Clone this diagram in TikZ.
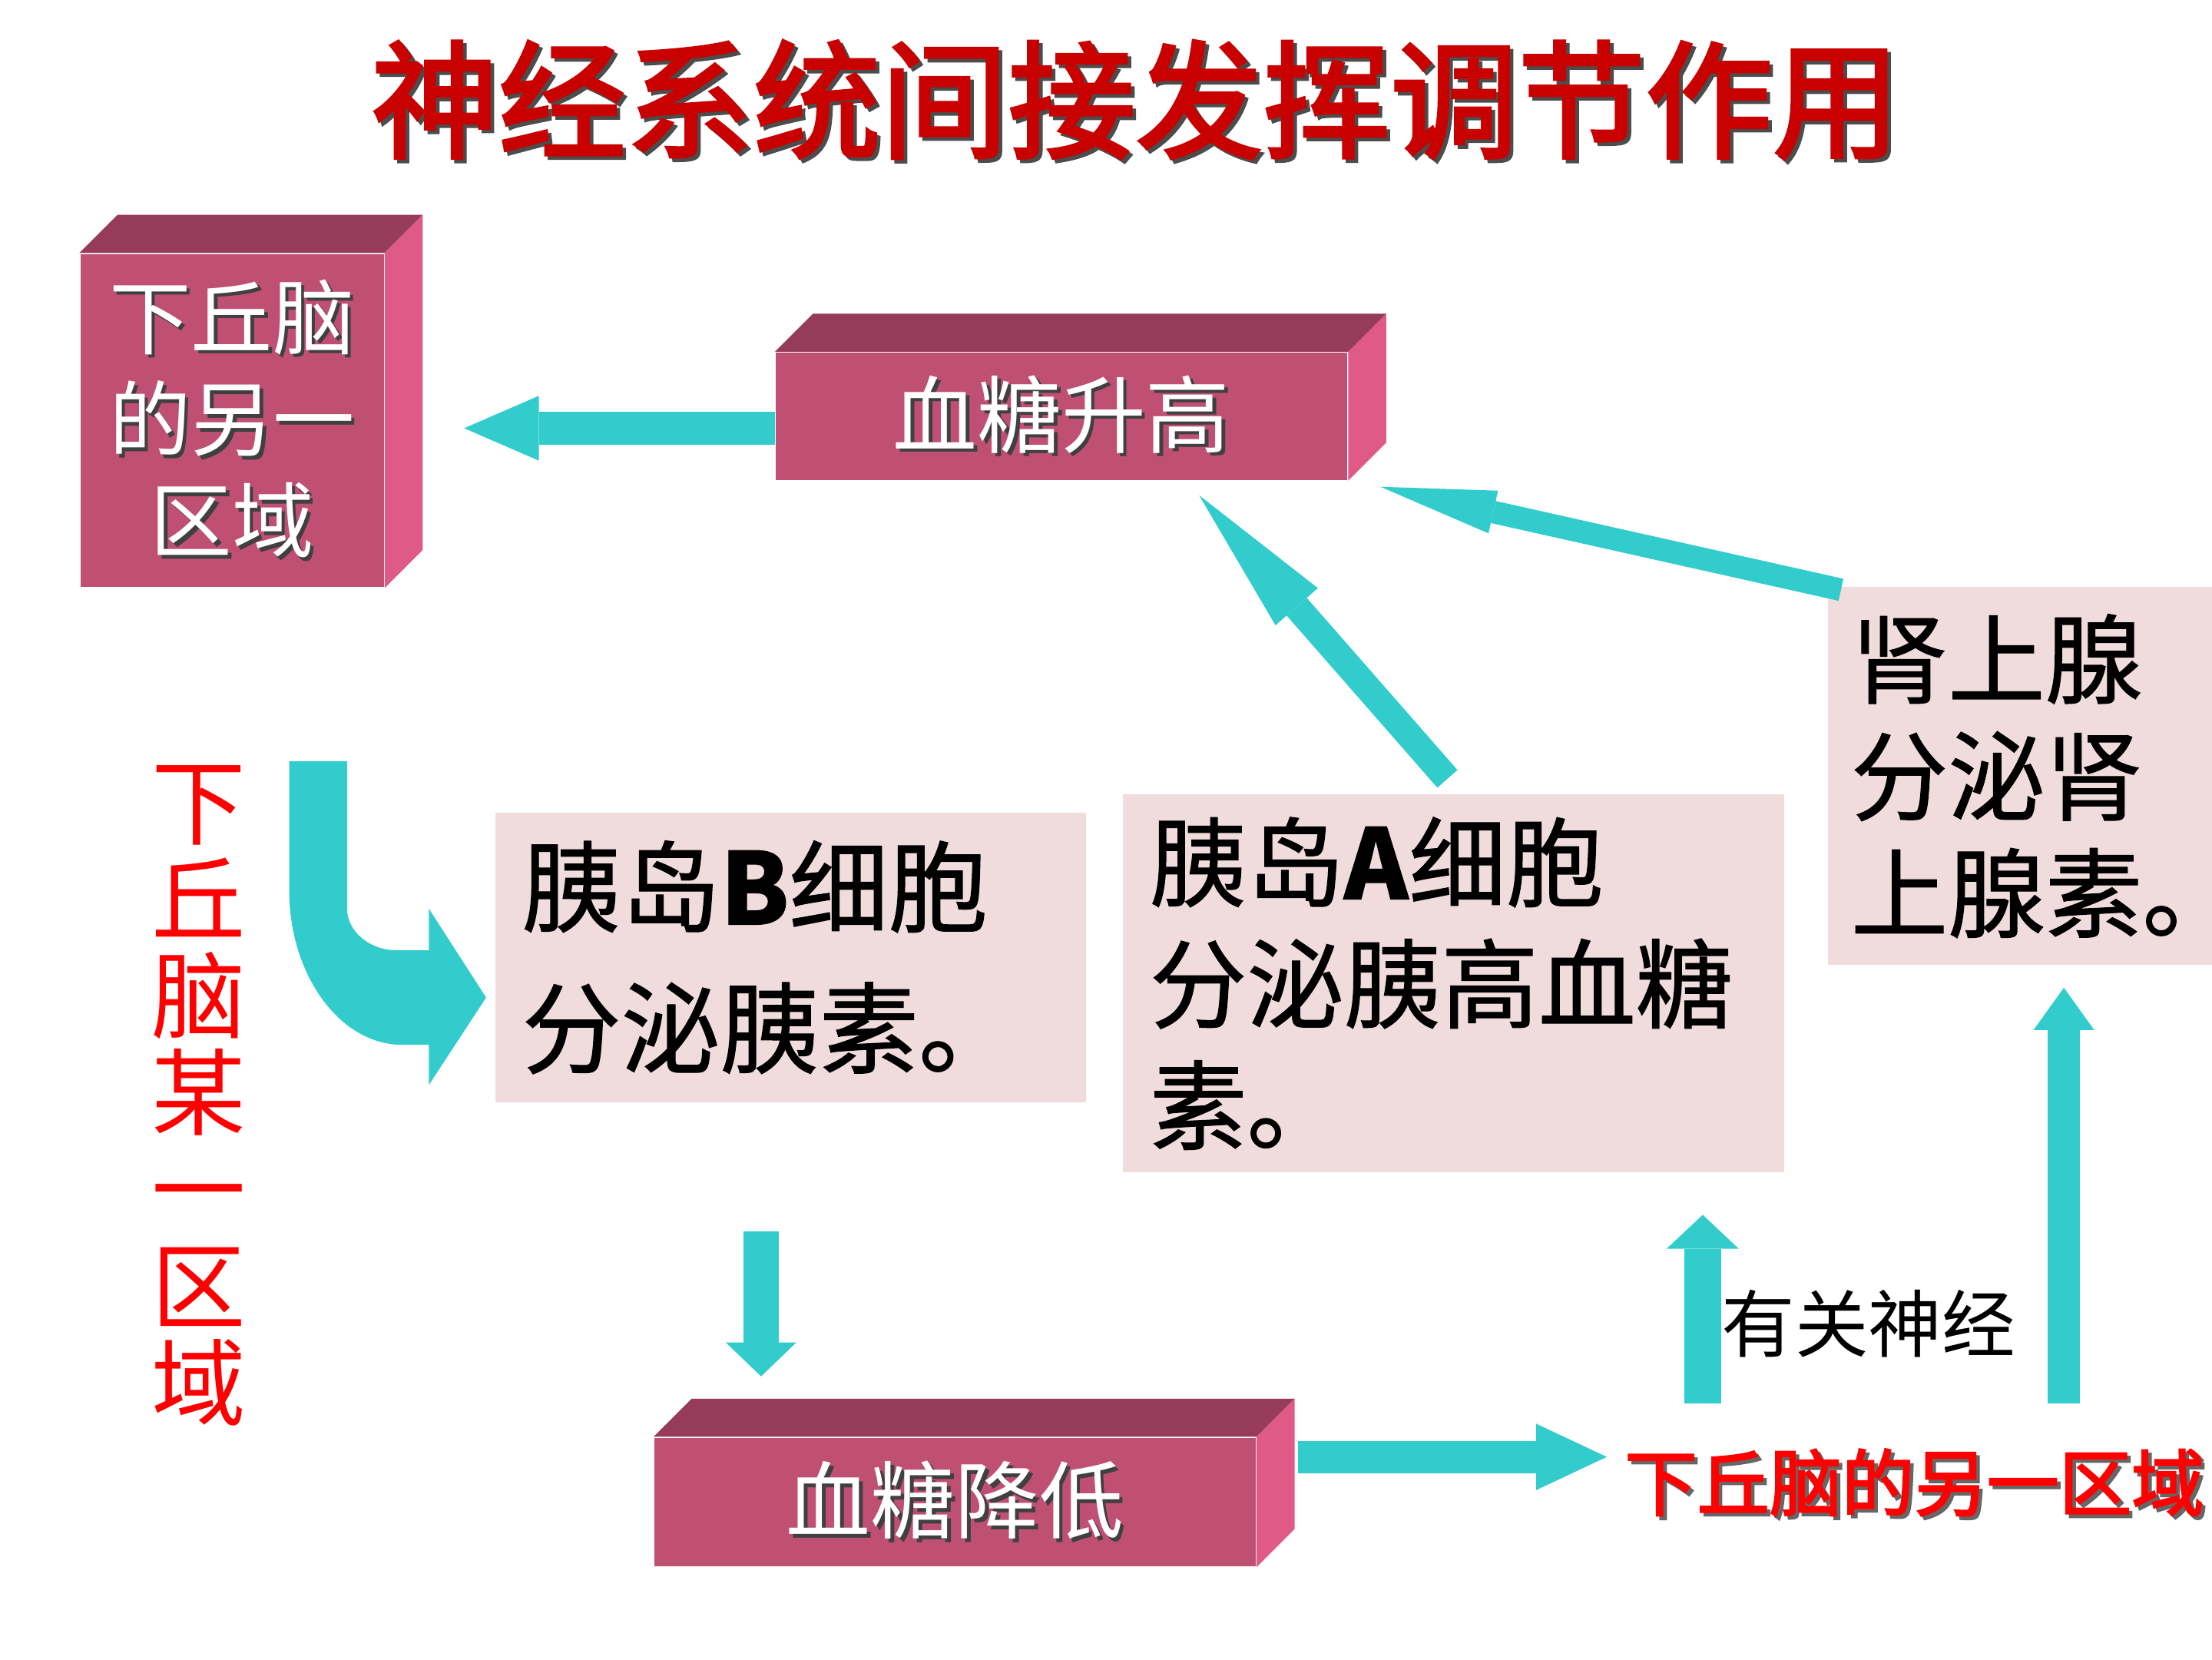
\documentclass[tikz,border=0pt]{standalone}
\usepackage{fontspec}
\setmainfont{Noto Sans CJK SC}
\newfontfamily\heavycjk{Noto Sans CJK SC}[FakeBold=2.5]
\newfontfamily\mediumcjk{Noto Sans CJK SC}[FakeBold=1]
\usepackage{tikz}
\usetikzlibrary{arrows.meta, positioning}
\definecolor{titlered}{RGB}{200,0,0}
\definecolor{boxfront}{RGB}{192,80,115}
\definecolor{boxtop}{RGB}{150,60,90}
\definecolor{boxside}{RGB}{224,90,135}
\definecolor{palebox}{RGB}{240,220,220}
\definecolor{aqua}{RGB}{51,204,204}
\newcommand{\dropshadow}[2][black!75]{\makebox[0pt][l]{\hspace{0.25mm}\raisebox{-0.25mm}{\textcolor{#1}{#2}}}#2}
\tikzstyle{front} = [fill=boxfront, inner sep=0pt, text=white, align=center]
\tikzstyle{pale} = [fill=palebox, inner xsep=1.9mm, inner ysep=0pt, align=left]
\tikzstyle{flow} = [draw=aqua]

\begin{document}
\begin{tikzpicture}[x=0.1mm, y=-0.1mm]
    \useasboundingbox (0,0) rectangle (1568,1176);

    \node[font=\heavycjk\fontsize{25.7pt}{30pt}\selectfont, text=titlered] (title) at (805,72) {\dropshadow[black!70]{神经系统间接发挥调节作用}};

    % 3d boxes
    \node[front, minimum width=21.5mm, minimum height=23.6mm, font=\fontsize{16.5pt}{20.5pt}\selectfont] (hypo) at (164.5,298) {\dropshadow{下丘脑}\\\dropshadow{的另一}\\\dropshadow{区域}};
    \node[front, minimum width=40.5mm, minimum height=9mm, font=\fontsize{17pt}{20pt}\selectfont] (rise) at (752.5,295) {\dropshadow{血糖升高}};
    \node[front, minimum width=42.6mm, minimum height=9.1mm, font=\fontsize{17pt}{20pt}\selectfont] (fall) at (677,1064.5) {\dropshadow{血糖降低}};
    \foreach \b in {hypo, rise, fall} {
        \fill[boxtop] (\b.north west) -- ([shift={(27,-27)}]\b.north west) -- ([shift={(27,-27)}]\b.north east) -- (\b.north east) -- cycle;
        \fill[boxside] (\b.north east) -- ([shift={(27,-27)}]\b.north east) -- ([shift={(27,-27)}]\b.south east) -- (\b.south east) -- cycle;
    }

    % pale boxes
    \node[pale, text width=38.1mm, minimum height=20.5mm, font=\mediumcjk\fontsize{20pt}{28.5pt}\selectfont] (isletb) at (560.5,678.5) {胰岛\textbf{B}细胞\\分泌胰素。};
    \node[pale, text width=43.1mm, minimum height=26.8mm, font=\mediumcjk\fontsize{19.6pt}{24.5pt}\selectfont] (isleta) at (1030.5,697) {胰岛\textbf{A}细胞\\分泌胰高血糖\\素。};
    \node[pale, inner xsep=1.6mm, text width=24mm, minimum height=26.8mm, font=\mediumcjk\fontsize{19.6pt}{23.6pt}\selectfont] (adrenal) at (1432,550) {肾上腺\\分泌肾\\上腺素。};

    % labels
    \node[text=red, align=center, font=\fontsize{19pt}{19.5pt}\selectfont] (redcol) at (141,776.5) {下\\丘\\脑\\某\\一\\区\\域};
    \node[text=red, font=\heavycjk\fontsize{14.6pt}{17pt}\selectfont] (redrow) at (1357,1052) {\dropshadow[black!60]{下丘脑的另一区域}};
    \node[font=\fontsize{14.8pt}{17pt}\selectfont] (nerve) at (1324.5,938) {有关神经};

    % arrows
    \coordinate (hypoin) at (329,303.5);
    \coordinate (aout) at (1026,552);
    \coordinate (riseina) at (850,351);
    \coordinate (adrout) at (1305,418);
    \coordinate (riseinb) at (978.5,345);
    \coordinate (bout) at (539.5,872.6);
    \coordinate (fallin) at (539.5,975.5);
    \coordinate (fallout) at (920,1032.6);
    \coordinate (redin) at (1139,1032.6);
    \coordinate (nervebot) at (1207,994.5);
    \coordinate (nervetop) at (1207,861);
    \coordinate (adrbot) at (1463,994.5);
    \coordinate (adrin) at (1463,700);

    \draw[flow, line width=2.3mm, -{Triangle[length=5.3mm, width=4.6mm, line width=0pt]}] (rise.west |- hypoin) -- (hypoin);
    \draw[flow, line width=1.9mm, -{Triangle[length=10.5mm, width=4mm, line width=0pt]}] (aout) -- (riseina);
    \draw[flow, line width=1.6mm, -{Triangle[length=8.2mm, width=3.1mm, line width=0pt]}] (adrout) -- (riseinb);
    \draw[flow, line width=2.5mm, -{Triangle[length=2.4mm, width=5mm, line width=0pt]}] (bout) -- (fallin);
    \draw[flow, line width=2.3mm, -{Triangle[length=5mm, width=4.7mm, line width=0pt]}] (fallout) -- (redin);
    \draw[flow, line width=2.6mm, -{Triangle[length=2.4mm, width=5.1mm, line width=0pt]}] (nervebot) -- (nervetop);
    \draw[flow, line width=2.25mm, -{Triangle[length=3mm, width=4.3mm, line width=0pt]}] (adrbot) -- (adrin);

    % bent arrow
    \fill[aqua] (205,539.5) -- (205,631) .. controls (205,691) and (241,740.5) .. (285,740.5) -- (304,740.5) -- (304,769) -- (344.6,707) -- (304,644) -- (304,673.5) -- (281,673.5) .. controls (262,673.5) and (246,660) .. (246,644) -- (246,539.5) -- cycle;
\end{tikzpicture}
\end{document}
